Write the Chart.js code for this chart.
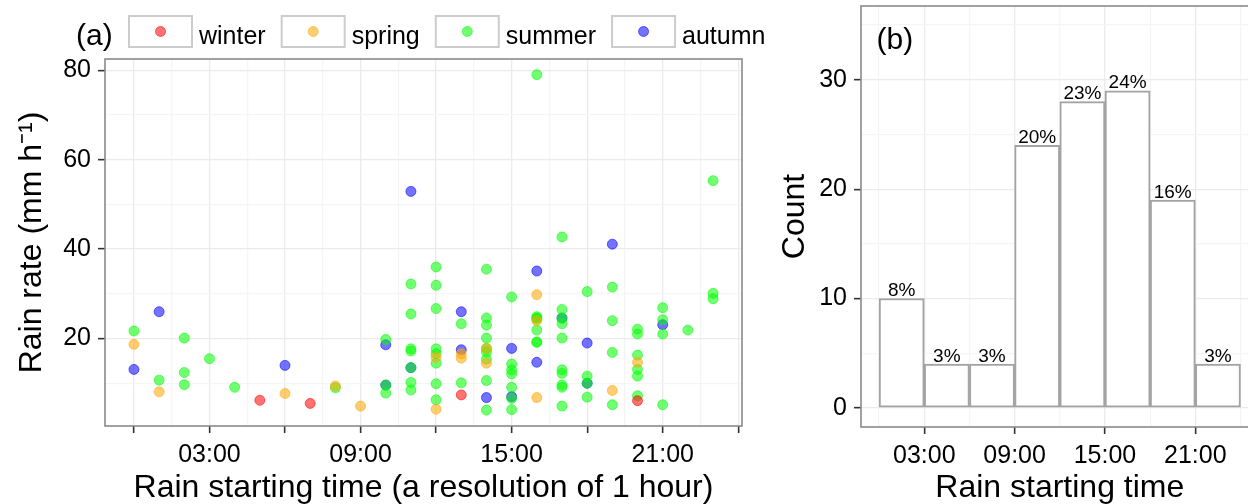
<!DOCTYPE html>
<html><head><meta charset="utf-8">
<script src="https://cdn.jsdelivr.net/npm/chart.js@4.4.1/dist/chart.umd.min.js"></script>
<style>
html,body{margin:0;padding:0;background:#fff;overflow:hidden;width:1248px;height:504px;position:relative;}
#a{position:absolute;left:0;top:0;width:770px;height:504px;}
#b{position:absolute;left:770px;top:0;width:500px;height:504px;}
</style></head><body>
<canvas id="a" width="770" height="504"></canvas>
<canvas id="b" width="500" height="504"></canvas>
<script>
// ---------- data ----------
const seasons = ['winter', 'spring', 'summer', 'autumn'];
const seasonColors = ['rgba(255,0,0,0.55)', 'rgba(255,165,0,0.55)', 'rgba(0,255,0,0.55)', 'rgba(0,0,255,0.55)'];

const winterHour = [5, 7, 13, 20];
const winterRate = [6.2, 5.5, 7.4, 6.1];

const springHour = [0, 1, 6, 8, 9, 12, 12, 13, 13, 14, 14, 16, 16, 16, 19, 20];
const springRate = [18.7, 8.1, 7.7, 9.4, 4.9, 15.8, 4.2, 16.6, 15.6, 17.8, 14.5, 29.8, 24.0, 6.8, 8.4, 14.7];

const summerHour = [0, 1, 2, 2, 2, 3, 4, 8,
  10, 10, 10,
  11, 11, 11, 11, 11, 11, 11,
  12, 12, 12, 12, 12, 12, 12, 12,
  13, 13,
  14, 14, 14, 14, 14, 14, 14, 14, 14,
  15, 15, 15, 15, 15, 15, 15,
  16, 16, 16, 16, 16, 16, 16,
  17, 17, 17, 17, 17, 17, 17, 17, 17, 17,
  18, 18, 18, 18,
  19, 19, 19, 19,
  20, 20, 20, 20, 20, 20,
  21, 21, 21, 21,
  22, 23, 23, 23];
const summerRate = [21.7, 10.7, 20.1, 12.4, 9.7, 15.5, 9.1, 9.0,
  19.8, 9.6, 7.8,
  32.2, 25.5, 17.7, 17.2, 13.5, 10.2, 8.5,
  36.0, 31.9, 26.7, 17.7, 16.6, 14.5, 9.9, 6.3,
  23.3, 10.1,
  35.5, 24.6, 23.0, 20.1, 17.8, 17.0, 15.4, 10.6, 4.0,
  29.3, 14.3, 13.0, 12.1, 9.1, 6.6, 4.1,
  79.0, 24.9, 24.6, 24.4, 21.9, 19.2, 19.2,
  42.7, 26.5, 24.6, 23.3, 20.1, 13.0, 12.2, 9.6, 9.1, 4.9,
  30.5, 11.6, 10.0, 6.9,
  31.5, 24.0, 16.9, 5.2,
  22.1, 21.0, 16.3, 13.1, 11.6, 7.2,
  26.9, 24.2, 21.0, 5.2,
  21.9, 55.3, 30.1, 28.9];

const autumnHour = [0, 1, 6, 10, 10, 11, 11, 13, 13, 14, 15, 15, 16, 16, 17, 18, 18, 19, 21];
const autumnRate = [13.1, 26.0, 14.0, 18.6, 9.6, 52.9, 13.5, 26.0, 17.5, 6.8, 17.8, 7.0, 35.1, 14.7, 24.6, 19.0, 10.0, 41.1, 23.1];

const histCenter = [1.5, 4.5, 7.5, 10.5, 13.5, 16.5, 19.5, 22.5];
const histCount = [10, 4, 4, 24, 28, 29, 19, 4];

const timeTickLabels = { 3: '03:00', 9: '09:00', 15: '15:00', 21: '21:00' };

// ---------- styling helpers ----------
const FONT = '"Liberation Sans", Arial, Helvetica, sans-serif';
const MAJOR = '#ebebeb', MINOR = '#f5f5f5', TICK = '#333333', BORDER = '#8a8a8a';
const near = (a, b) => Math.abs(a - b) < 1e-6;
const isMult = (v, m) => near(v / m, Math.round(v / m));
const noPad = s => { s.paddingTop = 0; s.paddingBottom = 0; s.paddingLeft = 0; s.paddingRight = 0; };

const panelBorder = {
  id: 'panelBorder',
  afterDatasetsDraw(chart) {
    const { ctx, chartArea: a } = chart;
    ctx.save();
    ctx.strokeStyle = BORDER; ctx.lineWidth = 1.6;
    ctx.strokeRect(a.left, a.top, a.right - a.left, a.bottom - a.top);
    ctx.restore();
  }
};

// ---------- panel (a) ----------
const hourSets = [winterHour, springHour, summerHour, autumnHour];
const rateSets = [winterRate, springRate, summerRate, autumnRate];

const legendA = {
  id: 'legendA',
  afterDraw(chart) {
    const ctx = chart.ctx;
    ctx.save();
    ctx.fillStyle = '#000';
    ctx.textBaseline = 'alphabetic';
    ctx.textAlign = 'left';
    ctx.font = '30px ' + FONT;
    ctx.fillText('(a)', 76, 44.5);
    ctx.font = '25px ' + FONT;
    let x = 129;
    const bw = 63, bh = 31, by = 16;
    seasons.forEach((s, i) => {
      ctx.fillStyle = '#fff';
      ctx.fillRect(x, by, bw, bh);
      ctx.strokeStyle = '#cccccc'; ctx.lineWidth = 2;
      ctx.strokeRect(x, by, bw, bh);
      ctx.beginPath();
      ctx.arc(x + bw / 2, by + bh / 2, 5, 0, Math.PI * 2);
      ctx.fillStyle = seasonColors[i]; ctx.fill();
      ctx.strokeStyle = seasonColors[i]; ctx.lineWidth = 1; ctx.stroke();
      ctx.fillStyle = '#000';
      ctx.fillText(s, x + bw + 7, 43.5);
      x += bw + 7 + ctx.measureText(s).width + 16;
    });
    ctx.restore();
  }
};

new Chart(document.getElementById('a'), {
  type: 'scatter',
  data: {
    datasets: seasons.map((s, i) => ({
      label: s,
      data: hourSets[i].map((h, j) => ({ x: h, y: rateSets[i][j] })),
      backgroundColor: seasonColors[i],
      borderColor: seasonColors[i],
      borderWidth: 1,
      pointRadius: 5,
      pointHoverRadius: 5
    }))
  },
  options: {
    responsive: false, animation: false, devicePixelRatio: 1,
    layout: { padding: { top: 59, right: 28, left: 0, bottom: 0 } },
    plugins: { legend: { display: false }, tooltip: { enabled: false } },
    scales: {
      x: {
        type: 'linear', min: -1.15, max: 24.15,
        afterFit(s) { s.height = 78; noPad(s); },
        afterBuildTicks(s) { const t = []; for (let v = 0; v <= 24; v += 1.5) t.push({ value: v }); s.ticks = t; },
        border: { display: false },
        grid: {
          color: c => isMult(c.tick.value, 3) ? MAJOR : MINOR,
          lineWidth: 1.3,
          tickColor: c => isMult(c.tick.value, 3) ? TICK : 'rgba(0,0,0,0)',
          tickLength: 7, tickWidth: 1.6
        },
        ticks: {
          autoSkip: false, maxRotation: 0, padding: 7, color: '#000',
          font: { family: FONT, size: 25 },
          callback: v => timeTickLabels[v] || ''
        },
        title: {
          display: true, text: 'Rain starting time (a resolution of 1 hour)', color: '#000',
          font: { family: FONT, size: 32, lineHeight: 1 }, padding: { top: 0, bottom: 0 }
        }
      },
      y: {
        type: 'linear', min: 0.45, max: 82.5,
        afterFit(s) { s.width = 105; noPad(s); },
        afterBuildTicks(s) { const t = []; for (let v = 10; v <= 80; v += 10) t.push({ value: v }); s.ticks = t; },
        border: { display: false },
        grid: {
          color: c => isMult(c.tick.value, 20) ? MAJOR : MINOR,
          lineWidth: 1.3,
          tickColor: c => isMult(c.tick.value, 20) ? TICK : 'rgba(0,0,0,0)',
          tickLength: 7, tickWidth: 1.6
        },
        ticks: {
          autoSkip: false, padding: 7, color: '#000',
          font: { family: FONT, size: 25 },
          callback: v => isMult(v, 20) ? String(v) : ''
        },
        title: {
          display: true, text: 'Rain rate (mm h\u207B\u00B9)', color: '#000',
          font: { family: FONT, size: 32, lineHeight: 1 }, padding: { top: 16, bottom: 0 }
        }
      }
    }
  },
  plugins: [panelBorder, legendA]
});

// ---------- panel (b) ----------
const histTotal = histCount.reduce((a, b) => a + b, 0);
const histLabels = {
  id: 'histLabels',
  afterDatasetsDraw(chart) {
    const ctx = chart.ctx;
    const meta = chart.getDatasetMeta(0);
    ctx.save();
    ctx.fillStyle = '#000';
    ctx.font = '19px ' + FONT;
    ctx.textAlign = 'center';
    ctx.textBaseline = 'alphabetic';
    meta.data.forEach((bar, i) => {
      ctx.fillText(Math.round(histCount[i] / histTotal * 100) + '%', bar.x, bar.y - 2.5);
    });
    ctx.font = '30px ' + FONT;
    const xs = chart.scales.x, ys = chart.scales.y;
    ctx.textBaseline = 'middle';
    ctx.fillText('(b)', xs.getPixelForValue(1.05), ys.getPixelForValue(33.6));
    ctx.restore();
  }
};

new Chart(document.getElementById('b'), {
  type: 'bar',
  data: {
    datasets: [{
      data: histCenter.map((c, i) => ({ x: c, y: histCount[i] })),
      backgroundColor: '#ffffff',
      borderColor: '#a3a3a3',
      borderWidth: 2,
      borderSkipped: false,
      barPercentage: 1,
      categoryPercentage: 1
    }]
  },
  options: {
    responsive: false, animation: false, devicePixelRatio: 1,
    layout: { padding: { top: 6, right: 11.4, left: 0, bottom: 0 } },
    plugins: { legend: { display: false }, tooltip: { enabled: false } },
    scales: {
      x: {
        type: 'linear', min: -1.2, max: 25.2, offset: false,
        afterFit(s) { s.height = 77; noPad(s); },
        afterBuildTicks(s) { const t = []; for (let v = 0; v <= 24; v += 3) t.push({ value: v }); s.ticks = t; },
        border: { display: false },
        grid: {
          offset: false,
          color: c => timeTickLabels[c.tick.value] ? MAJOR : MINOR,
          lineWidth: 1.3,
          tickColor: c => timeTickLabels[c.tick.value] ? TICK : 'rgba(0,0,0,0)',
          tickLength: 7, tickWidth: 1.6
        },
        ticks: {
          autoSkip: false, maxRotation: 0, padding: 7, color: '#000',
          font: { family: FONT, size: 25 },
          callback: v => timeTickLabels[v] || ''
        },
        title: {
          display: true, text: 'Rain starting time', color: '#000',
          font: { family: FONT, size: 32, lineHeight: 1 }, padding: { top: 0, bottom: 0 }
        }
      },
      y: {
        type: 'linear', min: -1.75, max: 36.75,
        afterFit(s) { s.width = 91; noPad(s); },
        afterBuildTicks(s) { const t = []; for (let v = 0; v <= 35; v += 5) t.push({ value: v }); s.ticks = t; },
        border: { display: false },
        grid: {
          color: c => isMult(c.tick.value, 10) ? MAJOR : MINOR,
          lineWidth: 1.3,
          tickColor: c => isMult(c.tick.value, 10) ? TICK : 'rgba(0,0,0,0)',
          tickLength: 7, tickWidth: 1.6
        },
        ticks: {
          autoSkip: false, padding: 7, color: '#000',
          font: { family: FONT, size: 25 },
          callback: v => isMult(v, 10) ? String(v) : ''
        },
        title: {
          display: true, text: 'Count', color: '#000',
          font: { family: FONT, size: 32, lineHeight: 1 }, padding: { top: 9, bottom: 0 }
        }
      }
    }
  },
  plugins: [panelBorder, histLabels]
});
</script>
</body></html>
